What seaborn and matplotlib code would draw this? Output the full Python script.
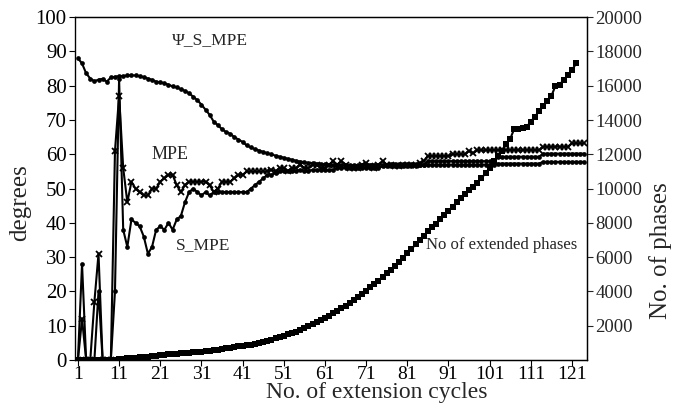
import numpy as np
import pandas as pd
import matplotlib
matplotlib.use("Agg")
import matplotlib.pyplot as plt
import seaborn as sns

# ---------------- data ----------------
cycles = list(range(1, 125))

psi_s_mpe = [
    88, 86.5, 83.6, 82.1, 81.3, 81.8, 82, 81.2, 82.4, 82.6,
    82.8, 82.8, 83, 83, 83, 82.8, 82.5, 82.1, 81.7, 81.2,
    81, 80.7, 80.3, 79.8, 79.5, 79, 78.5, 77.8, 76.8, 75.8,
    74.5, 73, 71.5, 69.5, 68.5, 67.3, 66.5, 66, 65, 64.3,
    63.6, 62.6, 62, 61.5, 61.1, 60.7, 60.3, 60, 59.6, 59.3,
    59, 58.7, 58.4, 58.1, 57.9, 57.7, 57.5, 57.4, 57.3, 57.2,
    57.1, 57, 56.9, 56.9, 56.8, 56.8, 56.8, 56.8, 56.9, 56.9,
    57, 57, 57, 57, 57, 57, 57.1, 57.1, 57.1, 57.1,
    57.1, 57.1, 57.1, 57, 57, 57, 57, 57, 57, 57,
    57, 57, 57, 57, 57, 57, 57, 57, 57, 57,
    57, 57, 57.3, 57.3, 57.3, 57.3, 57.3, 57.3, 57.3, 57.3,
    57.3, 57.3, 57.3, 57.8, 57.8, 57.8, 57.8, 57.8, 57.8, 57.8,
    57.8, 57.8, 57.8, 57.8,
]

mpe = [
    0, 12, 0, 0, 17, 31, 0, 0, 0, 61,
    77, 56, 46, 52, 50, 49, 48, 48, 50, 50,
    52, 53, 54, 54, 51, 49, 51, 52, 52, 52,
    52, 52, 51, 49, 50, 52, 52, 52, 53, 54,
    54, 55, 55, 55, 55, 55, 55, 55.5, 55, 56,
    56, 55, 56, 56, 57, 56, 56, 57, 57, 56,
    56, 57, 58, 57, 58, 57, 56, 56, 56, 57,
    57.5, 56.5, 56, 57, 58, 57, 57, 56.5, 56.5, 57,
    57, 57, 57, 57.5, 58, 59.5, 59.5, 59.5, 59.5, 59.5,
    59.5, 60, 60, 60, 60, 61, 60.3, 61.2, 61.2, 61.2,
    61.2, 61.2, 61.2, 61.2, 61.2, 61.2, 61.2, 61.2, 61.2, 61.2,
    61.2, 61.2, 61.2, 62.2, 62.2, 62.2, 62.2, 62.2, 62.2, 62.2,
    63.2, 63.2, 63.2, 63.2,
]

s_mpe = [
    0, 28, 0, 0, 0, 20, 0, 0, 0, 20,
    82, 38, 33, 41, 40, 39, 36, 31, 33, 38,
    39, 38, 40, 38, 41, 42, 46, 49, 50, 49,
    48, 49, 48, 49, 49, 49, 49, 49, 49, 49,
    49, 49, 50, 51, 52, 53, 54, 54, 54.5, 55,
    55, 55, 55, 55, 55.5, 55, 55, 55.5, 55.5, 55.5,
    55.5, 55.5, 55.5, 56, 56, 56, 56, 56, 56, 56,
    56, 56, 56, 56, 56.5, 56.5, 56.5, 56.5, 56.5, 56.5,
    56.5, 56.5, 56.5, 57, 57, 58, 58, 58, 58, 58,
    58, 58, 58, 58, 58, 58, 58, 58, 58, 58,
    58, 58, 59.3, 59.3, 59.3, 59.3, 59.3, 59.3, 59.3, 59.3,
    59.3, 59.3, 59.3, 60.2, 60.2, 60.2, 60.2, 60.2, 60.2, 60.2,
    60.2, 60.2, 60.2, 60.2,
]

extended_phases = [
    0, 0, 0, 0, 0, 0, 0, 0, 0, 0,
    60, 80, 100, 120, 140, 160, 180, 200, 230, 260,
    290, 310, 330, 350, 370, 390, 410, 430, 450, 470,
    490, 520, 550, 580, 610, 640, 680, 720, 760, 800,
    830, 850, 880, 930, 990, 1050, 1120, 1190, 1260, 1340,
    1420, 1500, 1580, 1660, 1750, 1860, 1970, 2090, 2210, 2330,
    2460, 2590, 2730, 2870, 3020, 3170, 3330, 3500, 3680, 3860,
    4050, 4240, 4440, 4640, 4850, 5060, 5270, 5490, 5720, 5960,
    6220, 6480, 6740, 7000, 7250, 7500, 7750, 7950, 8200, 8450,
    8700, 8950, 9200, 9450, 9700, 9900, 10100, 10350, 10600, 10900,
    11200, 11600, 11900, 12200, 12600, 12900, 13500, 13500, 13550, 13600,
    13900, 14200, 14500, 14800, 15100, 15400, 16000, 16050, 16350, 16600,
    16900, 17300, np.nan, np.nan,
]

x_ticks = [1, 11, 21, 31, 41, 51, 61, 71, 81, 91, 101, 111, 121]
left_ticks = [0, 10, 20, 30, 40, 50, 60, 70, 80, 90, 100]
right_ticks = [2000, 4000, 6000, 8000, 10000, 12000, 14000, 16000, 18000, 20000]

df = pd.DataFrame({
    "cycle": cycles,
    "psi": psi_s_mpe,
    "mpe": mpe,
    "smpe": s_mpe,
    "ext": extended_phases,
})

# ---------------- style ----------------
sns.set_style("ticks")
plt.rcParams["font.family"] = ["Liberation Serif", "DejaVu Serif"]

fig = plt.figure(figsize=(6.73, 4.08), dpi=100)
ax = fig.add_axes([0.1115, 0.1175, 0.761, 0.8405])
ax2 = ax.twinx()

lw = 1.5
sns.lineplot(data=df, x="cycle", y="psi", ax=ax, color="black", lw=lw,
             marker="o", markersize=3.4, markeredgewidth=0, legend=False)
sns.lineplot(data=df, x="cycle", y="mpe", ax=ax, color="black", lw=lw,
             marker="x", markersize=4.2, markeredgewidth=1.3,
             markeredgecolor="black", legend=False)
sns.lineplot(data=df, x="cycle", y="smpe", ax=ax, color="black", lw=lw,
             marker="o", markersize=3.4, markeredgewidth=0, legend=False)
sns.lineplot(data=df, x="cycle", y="ext", ax=ax2, color="black", lw=lw,
             marker="s", markersize=4.0, markeredgewidth=0, legend=False)

ax.set_xlim(0.3, 124.7)
ax.set_ylim(0, 100)
ax2.set_ylim(0, 20000)
ax.set_xticks(x_ticks)
ax.set_yticks(left_ticks)
ax2.set_yticks(right_ticks)

ax.tick_params(axis="y", labelsize=15, length=4, width=0.8, pad=2, colors="black")
ax.tick_params(axis="x", labelsize=14, length=4, width=0.8, pad=0.5, colors="black")
ax2.tick_params(axis="y", labelsize=13.5, length=4, width=0.8, pad=2)

ax.set_xlabel("No. of extension cycles", fontsize=17)
ax.set_ylabel("degrees", fontsize=18)
ax2.set_ylabel("No. of phases", fontsize=18)
ax.xaxis.set_label_coords(0.59, -0.095, transform=ax.transAxes)
ax.yaxis.set_label_coords(-0.107, 0.46, transform=ax.transAxes)
ax2.yaxis.set_label_coords(1.143, 0.32, transform=ax2.transAxes)
ax.xaxis.label.set_va("center")
ax.yaxis.label.set_va("center")
ax2.yaxis.label.set_va("center")

for a in (ax, ax2):
    for s in a.spines.values():
        s.set_visible(True)
        s.set_color("black")
        s.set_linewidth(0.9)
ax.spines["left"].set_color("#888888")

ax.text(33.0, 93.3, "\u03a8_S_MPE", fontsize=12.5, ha="center", va="center")
ax.text(23.3, 60.0, "MPE", fontsize=13, ha="center", va="center")
ax.text(31.5, 33.5, "S_MPE", fontsize=12.5, ha="center", va="center")
ax2.text(85.5, 6700, "No of extended phases", fontsize=12, ha="left", va="center")

fig.savefig("out.png", dpi=100, facecolor="white")
